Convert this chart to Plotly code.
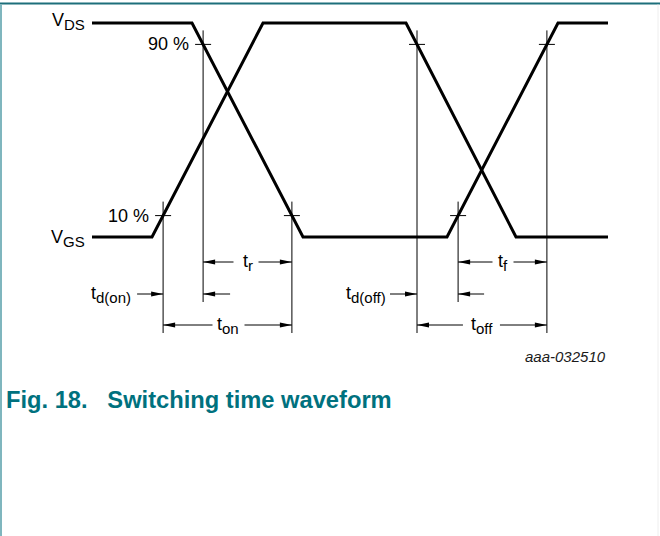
import plotly.graph_objects as go

# ---------------- data (time in diagram units, level in % of swing) ----------------
t_vgs = [0, 60, 171, 314, 424, 516]
vgs_level = [0, 0, 100, 100, 0, 0]
t_vds = [0, 100, 211, 355, 466, 516]
vds_level = [100, 100, 0, 0, 100, 100]
threshold_low = 10
threshold_high = 90
threshold_labels = ["10 %", "90 %"]
signal_labels = ["V<sub><span style='font-size:15px'>DS</span></sub>",
                 "V<sub><span style='font-size:15px'>GS</span></sub>"]
interval_labels = {
    "td_on": "t<sub><span style='font-size:15px'>d(on)</span></sub>",
    "tr": "t<sub><span style='font-size:15px'>r</span></sub>",
    "ton": "t<sub><span style='font-size:15px'>on</span></sub>",
    "td_off": "t<sub><span style='font-size:15px'>d(off)</span></sub>",
    "tf": "t<sub><span style='font-size:15px'>f</span></sub>",
    "toff": "t<sub><span style='font-size:15px'>off</span></sub>",
}
figure_id = "aaa-032510"
caption = "Fig. 18.\u00a0\u00a0\u00a0Switching time waveform"

# ---------------- layout geometry ----------------
W, H = 660, 536
X0_PX = 92          # pixel column of t = 0
TOP_PX = 23         # pixel row of 100 %
PX_PER_PCT = 2.14   # vertical scale
YMAX = 100 + TOP_PX / PX_PER_PCT
YMIN = YMAX - H / PX_PER_PCT
FAMILY = "Arial, Liberation Sans, sans-serif"


def yp(pix):
    return YMAX - pix / PX_PER_PCT


def xp(pix):
    return pix - X0_PX


def crossing(t, v, level, rising):
    for i in range(len(t) - 1):
        a, b = v[i], v[i + 1]
        if rising and a < level <= b or (not rising) and a > level >= b:
            return t[i] + (level - a) * (t[i + 1] - t[i]) / (b - a)
    return None


# switching instants
t_gs10_rise = crossing(t_vgs, vgs_level, threshold_low, True)
t_ds90_fall = crossing(t_vds, vds_level, threshold_high, False)
t_ds10_fall = crossing(t_vds, vds_level, threshold_low, False)
t_gs90_fall = crossing(t_vgs, vgs_level, threshold_high, False)
t_ds10_rise = crossing(t_vds, vds_level, threshold_low, True)
t_ds90_rise = crossing(t_vds, vds_level, threshold_high, True)

ROW_R = yp(262)
ROW_D = yp(294)
ROW_ON = yp(325)

fig = go.Figure()
fig.add_trace(go.Scatter(x=t_vds, y=vds_level, mode="lines",
                         line=dict(color="black", width=3), hoverinfo="skip"))
fig.add_trace(go.Scatter(x=t_vgs, y=vgs_level, mode="lines",
                         line=dict(color="black", width=3), hoverinfo="skip"))

shapes = []
LINE = dict(color="black", width=1)

# vertical reference lines: (time, level, lowest row)
verticals = [
    (t_gs10_rise, threshold_low, ROW_ON),
    (t_ds90_fall, threshold_high, ROW_D),
    (t_ds10_fall, threshold_low, ROW_ON),
    (t_gs90_fall, threshold_high, ROW_ON),
    (t_ds10_rise, threshold_low, ROW_D),
    (t_ds90_rise, threshold_high, ROW_ON),
]
for t, lvl, row in verticals:
    shapes.append(dict(type="line", xref="x", yref="y", x0=t, x1=t,
                       y0=lvl + 14 / PX_PER_PCT, y1=row - 8 / PX_PER_PCT, line=LINE))
    shapes.append(dict(type="line", xref="x", yref="y", x0=t - 8, x1=t + 8,
                       y0=lvl, y1=lvl, line=LINE))

HEAD_L = 12
HEAD_W = 2.6 / PX_PER_PCT


def arrow(x_from, x_to, y):
    shapes.append(dict(type="line", xref="x", yref="y", x0=x_from, x1=x_to,
                       y0=y, y1=y, line=LINE))
    d = 1 if x_to > x_from else -1
    xb = x_to - d * HEAD_L
    shapes.append(dict(type="path", xref="x", yref="y",
                       path=f"M{x_to},{y} L{xb},{y + HEAD_W} L{xb},{y - HEAD_W} Z",
                       fillcolor="black", line=dict(width=0)))


annotations = []
FONT = dict(family=FAMILY, size=18, color="black")


def label(text, x, y, xanchor="center", font=FONT, yanchor="middle"):
    annotations.append(dict(text=text, x=x, y=y, xref="x", yref="y", showarrow=False,
                            xanchor=xanchor, yanchor=yanchor, font=font))


def dimension(t0, t1, y, text, gap_l, gap_r):
    mid = (t0 + t1) / 2
    arrow(mid - gap_l, t0, y)
    arrow(mid + gap_r, t1, y)
    label(text, mid, y)


dimension(t_ds90_fall, t_ds10_fall, ROW_R, interval_labels["tr"], 14, 11)
dimension(t_gs10_rise, t_ds10_fall, ROW_ON, interval_labels["ton"], 15, 17)
dimension(t_ds10_rise, t_ds90_rise, ROW_R, interval_labels["tf"], 10, 11)
dimension(t_gs90_fall, t_ds90_rise, ROW_ON, interval_labels["toff"], 19, 18)

# delay times: arrows pointing inward from outside
arrow(t_gs10_rise - 26, t_gs10_rise, ROW_D)
arrow(t_ds90_fall + 27, t_ds90_fall, ROW_D)
label(interval_labels["td_on"], t_gs10_rise - 30, ROW_D, xanchor="right")
arrow(t_gs90_fall - 27, t_gs90_fall, ROW_D)
arrow(t_ds10_rise + 26, t_ds10_rise, ROW_D)
label(interval_labels["td_off"], t_gs90_fall - 29, ROW_D, xanchor="right")

# signal and level labels
label(signal_labels[0], xp(87), vds_level[0] + 0.5, xanchor="right")
label(signal_labels[1], xp(87), vgs_level[0] - 0.5, xanchor="right")
label(threshold_labels[1], t_ds90_fall - 12, threshold_high, xanchor="right")
label(threshold_labels[0], t_gs10_rise - 12, threshold_low, xanchor="right")

label("<i>" + figure_id + "</i>", xp(608), yp(356), xanchor="right",
      font=dict(family=FAMILY, size=15, color="#1a1a1a"))
label("<b>" + caption + "</b>", xp(4), yp(400), xanchor="left",
      font=dict(family=FAMILY, size=23.7, color="#00717e"))

# page frame
shapes.append(dict(type="line", xref="paper", yref="paper", x0=0, x1=1,
                   y0=1 - 3.5 / H, y1=1 - 3.5 / H, line=dict(color="#1d6f7b", width=2)))
shapes.append(dict(type="line", xref="paper", yref="paper", x0=1 / W, x1=1 / W,
                   y0=0, y1=1 - 4.5 / H, line=dict(color="#7fb6be", width=2)))
shapes.append(dict(type="line", xref="paper", yref="paper", x0=1 - 2 / W, x1=1 - 2 / W,
                   y0=0, y1=1 - 4.5 / H, line=dict(color="#eeeeee", width=1)))

fig.update_layout(
    width=W, height=H, margin=dict(l=0, r=0, t=0, b=0),
    paper_bgcolor="white", plot_bgcolor="white", showlegend=False,
    xaxis=dict(range=[xp(0), xp(W)], visible=False, fixedrange=True),
    yaxis=dict(range=[YMIN, YMAX], visible=False, fixedrange=True),
    shapes=shapes, annotations=annotations,
)
fig.write_html("out.html", config={"displayModeBar": False},
               post_script="document.body.style.margin='0';document.body.style.overflow='hidden';")
